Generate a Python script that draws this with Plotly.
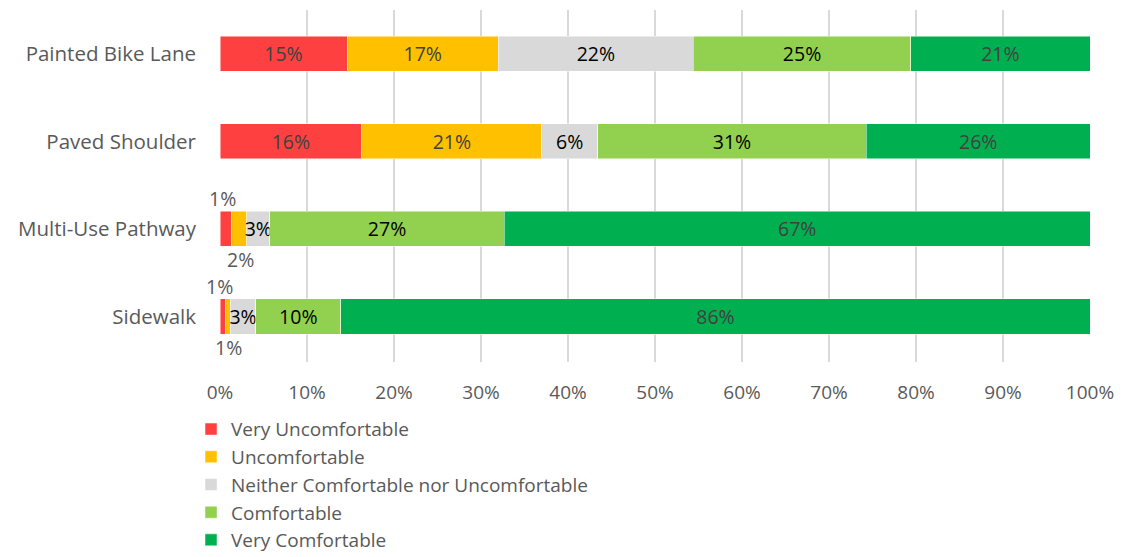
import plotly.graph_objects as go

categories = ["Painted Bike Lane", "Paved Shoulder", "Multi-Use Pathway", "Sidewalk"]
series_names = ["Very Uncomfortable", "Uncomfortable",
                "Neither Comfortable nor Uncomfortable", "Comfortable", "Very Comfortable"]
very_uncomfortable = [14.6, 16.3, 1.3, 0.6]
uncomfortable = [17.4, 20.7, 1.8, 0.6]
neither = [22.4, 6.4, 2.6, 2.9]
comfortable = [25.0, 30.9, 27.0, 9.8]
very_comfortable = [20.6, 25.7, 67.3, 86.1]
colors = ["#FF4040", "#FFC000", "#D9D9D9", "#92D050", "#00B050"]
text_colors = ["#404040", "#404040", "#000000", "#000000", "#404040"]
x_ticks = [0, 10, 20, 30, 40, 50, 60, 70, 80, 90, 100]
x_tick_labels = ["0%", "10%", "20%", "30%", "40%", "50%", "60%", "70%", "80%", "90%", "100%"]

series = [very_uncomfortable, uncomfortable, neither, comfortable, very_comfortable]
FONT = "Open Sans"

fig = go.Figure()
for name, vals, col, tcol in zip(series_names, series, colors, text_colors):
    texts = [f"{round(v):.0f}%" if v >= 2.5 else "" for v in vals]
    fig.add_trace(go.Bar(
        y=categories, x=vals, name=name, orientation="h",
        marker=dict(color=col, line=dict(color="rgba(255,255,255,0.6)", width=0.8)),
        text=texts, textposition="inside", insidetextanchor="middle",
        textangle=0, constraintext="none",
        textfont=dict(family=FONT, size=19.5, color=tcol),
        hoverinfo="skip",
    ))

# outside labels for tiny segments (above for first, below for second)
annotations = []
for ci, cat in enumerate(categories):
    cum = 0
    for si, vals in enumerate(series[:2]):
        v = vals[ci]
        mid = cum + v / 2
        cum += v
        if v < 2.5:
            annotations.append(dict(
                x=mid, y=cat, xref="x", yref="y", text=f"{round(v):.0f}%",
                showarrow=False, yshift=30 if si == 0 else -31,
                xshift=-3 if si == 0 else 1,
                font=dict(family=FONT, size=19.5, color="#595959")))

fig.update_layout(
    barmode="stack", bargap=0.6,
    width=1114, height=549,
    margin=dict(l=212, r=32, t=2, b=195, autoexpand=False),
    paper_bgcolor="white", plot_bgcolor="white",
    font=dict(family=FONT, size=19, color="#595959"),
    showlegend=True,
    legend=dict(orientation="v", x=-0.0333, y=-0.137, xanchor="left", yanchor="top",
                traceorder="normal", font=dict(family=FONT, size=19, color="#595959"),
                itemwidth=30, tracegroupgap=0, bgcolor="rgba(0,0,0,0)"),
    annotations=annotations,
)
fig.update_xaxes(range=[0, 100], tickvals=x_ticks, ticktext=x_tick_labels,
                 showgrid=True, gridcolor="#D9D9D9", gridwidth=1.5,
                 zeroline=False, showline=False, ticks="", automargin=False,
                 ticklabelstandoff=17,
                 tickfont=dict(family=FONT, size=19, color="#595959"))
fig.update_yaxes(autorange="reversed", showgrid=False, showline=False, ticks="",
                 automargin=False, ticklabelstandoff=23,
                 tickfont=dict(family=FONT, size=20.5, color="#595959"))

fig.write_html("out.html")
